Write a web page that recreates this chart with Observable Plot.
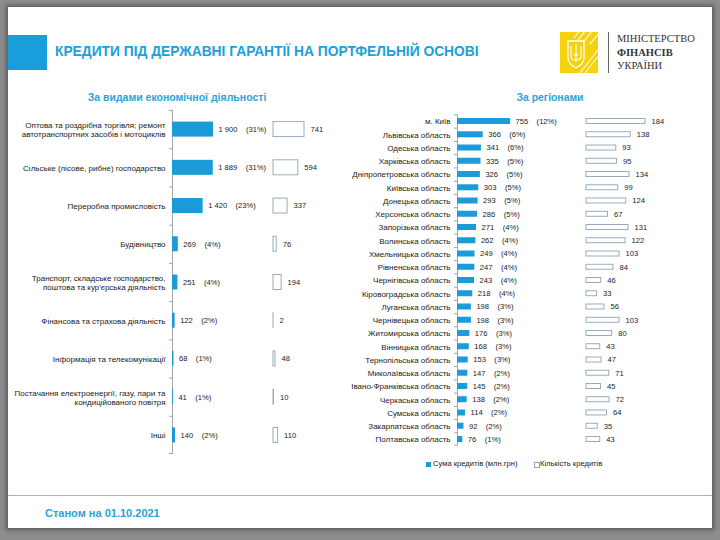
<!DOCTYPE html>
<html><head><meta charset="utf-8">
<script src="https://cdn.jsdelivr.net/npm/d3@7"></script>
<script src="https://cdn.jsdelivr.net/npm/@observablehq/plot@0.6"></script>
<style>
html,body{margin:0;padding:0;}
body{width:720px;height:540px;background:#8c8c8c;position:relative;overflow:hidden;font-family:Arial,"Liberation Sans",sans-serif;}
#slide{position:absolute;left:8px;top:7px;width:704px;height:521px;background:#fff;box-shadow:0 0 4px 2px rgba(0,0,0,.35);}
.abs{position:absolute;white-space:nowrap;}
.ov{position:absolute;left:0;top:0;}
</style></head><body>
<div id="slide"></div>
<div class="abs" style="left:8px;top:35px;width:39px;height:35px;background:#1a9ddb"></div>
<div class="abs" id="title" style="left:55px;top:43px;font:bold 13.8px 'Liberation Sans Narrow','Arial Narrow',sans-serif;color:#20a0da;line-height:18px;">КРЕДИТИ ПІД ДЕРЖАВНІ ГАРАНТІЇ НА ПОРТФЕЛЬНІЙ ОСНОВІ</div>
<svg class="abs" style="left:560px;top:32px" width="38" height="41" viewBox="0 0 38 41">
  <defs><clipPath id="c"><rect width="38" height="41"/></clipPath></defs>
  <rect width="38" height="41" fill="#f5d20c"/>
  <g clip-path="url(#c)" stroke="#fff" stroke-width="1.2" opacity="0.85">
    <line x1="20" y1="41" x2="41" y2="14"/><line x1="25" y1="41" x2="43" y2="18"/>
    <line x1="14" y1="6" x2="20" y2="-2"/><line x1="18" y1="8" x2="26" y2="-2"/>
    <line x1="24" y1="9" x2="32" y2="-1"/><line x1="30" y1="12" x2="40" y2="0"/>
  </g>
  <path d="M8 9 H24 V25 Q24 32 16 36 Q8 32 8 25 Z" fill="none" stroke="#fff" stroke-width="1.3"/>
  <path d="M16 12 V30 M11 14 V24 Q11 28 16 28 Q21 28 21 24 V14 M14 22 Q16 26 18 22" fill="none" stroke="#fff" stroke-width="1.1"/>
</svg>
<div class="abs" style="left:608px;top:32px;width:1px;height:41px;background:#666"></div>
<div class="abs" style="left:617px;top:32px;font:10.5px 'Liberation Serif','DejaVu Serif',serif;color:#333;line-height:13.5px;">МІНІСТЕРСТВО<br><b>ФІНАНСІВ</b><br>УКРАЇНИ</div>
<div class="abs" style="left:0;width:354px;top:91px;text-align:center;font:bold 10.5px Arial,'Liberation Sans',sans-serif;color:#29a5d8;">За видами економічної діяльності</div>
<div class="abs" style="left:450px;width:200px;top:92px;text-align:center;font:bold 10.4px Arial,'Liberation Sans',sans-serif;color:#29a5d8;">За регіонами</div>
<div class="abs" style="left:426px;top:462px;width:5px;height:5px;background:#1b9bd7"></div>
<div class="abs" style="left:433px;top:459px;font:7.6px Arial,'Liberation Sans',sans-serif;color:#222;">Сума кредитів (млн.грн)</div>
<div class="abs" style="left:534px;top:462px;width:4px;height:4px;border:0.8px solid #8fa3b3;background:#fff"></div>
<div class="abs" style="left:540px;top:459px;font:7.6px Arial,'Liberation Sans',sans-serif;color:#222;">Кількість кредитів</div>
<div class="abs" style="left:8px;top:495px;width:704px;height:1px;background:#7fc6e0"></div>
<div class="abs" style="left:45px;top:507px;font:bold 11px Arial,'Liberation Sans',sans-serif;color:#2aa3d6;">Станом на 01.10.2021</div>
<script>
const sectors = [
  "Оптова та роздрібна торгівля; ремонт\nавтотранспортних засобів і мотоциклів",
  "Сільське (лісове, рибне) господарство",
  "Переробна промисловість",
  "Будівництво",
  "Транспорт, складське господарство,\nпоштова та кур'єрська діяльність",
  "Фінансова та страхова діяльність",
  "Інформація та телекомунікації",
  "Постачання електроенергії, газу, пари та\nкондиційованого повітря",
  "Інші"
];
const sectorSums = [1900, 1889, 1420, 269, 251, 122, 68, 41, 140];
const sectorPct = [31, 31, 23, 4, 4, 2, 1, 1, 2];
const sectorCounts = [741, 594, 337, 76, 194, 2, 48, 10, 110];

const regions = ["м. Київ","Львівська область","Одеська область","Харківська область","Дніпропетровська область","Київська область","Донецька область","Херсонська область","Запорізька область","Волинська область","Хмельницька область","Рівненська область","Чернігівська область","Кіровоградська область","Луганська область","Чернівецька область","Житомирська область","Вінницька область","Тернопільська область","Миколаївська область","Івано-Франківська область","Черкаська область","Сумська область","Закарпатська область","Полтавська область"];
const regionSums = [755,366,341,335,326,303,293,286,271,262,249,247,243,218,198,198,176,168,153,147,145,138,114,92,76];
const regionPct = [12,6,6,5,5,5,5,5,4,4,4,4,4,4,3,3,3,3,3,2,2,2,2,2,1];
const regionCounts = [184,138,93,95,134,99,124,67,131,122,103,84,46,33,56,103,80,43,47,71,45,72,64,35,43];

const fmt = n => n >= 1000 ? d3.format(",")(n).replace(/,/g, "\u00a0") : String(n);
const NB = "\u00a0";
const FONT = "Arial, 'Liberation Sans', sans-serif";

function panel(o) {
  const rows = o.cats.map((c, i) => ({cat: c, sum: o.sums[i], pct: o.pcts[i], count: o.counts[i]}));
  const step = (o.y1 - o.y0) / o.cats.length;
  const inset = (step - o.barH) / 2;
  const cinset = (step - o.cntH) / 2;
  const k = 3 * o.sumMax / o.sumW;
  const base = {
    width: 720, height: 540,
    marginTop: o.y0, marginBottom: 540 - o.y1,
    style: {background: "transparent", fontFamily: FONT, overflow: "visible"}
  };
  const yScale = {domain: o.cats, padding: 0, round: false, axis: null};
  const sumPlot = Plot.plot({
    ...base,
    marginLeft: o.axisX, marginRight: 720 - o.axisX - o.sumW,
    x: {domain: [0, o.sumMax], axis: null},
    y: yScale,
    marks: [
      Plot.axisY({tickSize: 0, tickPadding: 7, fontSize: o.labelSize, lineHeight: 1.15, color: "#1a1a1a", label: null}),
      Plot.ruleX([0], {stroke: "#a6a6a6"}),
      Plot.barX(o.cats, {x1: -k, x2: 0, y: d => d, insetBottom: step - 1, fill: "#a6a6a6"}),
      Plot.barX([o.cats[o.cats.length - 1]], {x1: -k, x2: 0, y: d => d, insetTop: step - 1, fill: "#a6a6a6"}),
      Plot.barX(rows, {x: "sum", y: "cat", fill: "#1b9bd7", insetTop: inset, insetBottom: inset}),
      Plot.text(rows, {x: "sum", y: "cat", text: d => fmt(d.sum) + NB.repeat(o.gap) + `(${d.pct}%)`, dx: 5, textAnchor: "start", fontSize: o.fontSize, fill: "#222"})
    ]
  });
  const cntPlot = Plot.plot({
    ...base,
    marginLeft: o.cntX, marginRight: 720 - o.cntX - o.cntW,
    x: {domain: [0, o.cntMax], axis: null},
    y: yScale,
    marks: [
      Plot.barX(rows, {x: "count", y: "cat", fill: "white", stroke: "#8fa3b3", strokeWidth: 0.9, insetTop: cinset, insetBottom: cinset}),
      Plot.text(rows, {x: "count", y: "cat", text: d => fmt(d.count), dx: 6, textAnchor: "start", fontSize: o.fontSize, fill: "#222"})
    ]
  });
  for (const p of [sumPlot, cntPlot]) { p.classList.add("ov"); document.body.appendChild(p); }
}

panel({cats: sectors, sums: sectorSums, pcts: sectorPct, counts: sectorCounts,
  y0: 110, y1: 454, axisX: 172, sumMax: 1900, sumW: 41, cntX: 273, cntMax: 741, cntW: 31,
  barH: 15, cntH: 15, fontSize: 7.6, labelSize: 8, gap: 4});
panel({cats: regions, sums: regionSums, pcts: regionPct, counts: regionCounts,
  y0: 114.4, y1: 445.6, axisX: 457, sumMax: 755, sumW: 53, cntX: 586, cntMax: 184, cntW: 59,
  barH: 6, cntH: 5, fontSize: 7.6, labelSize: 8, gap: 4});
</script>
</body></html>
